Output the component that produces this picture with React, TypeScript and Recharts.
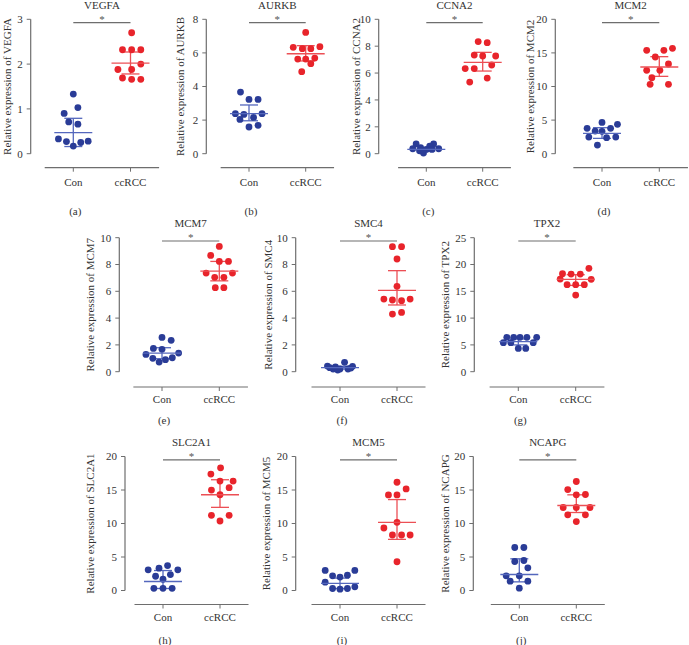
import { ScatterChart, Scatter, XAxis, YAxis, ErrorBar, ReferenceLine } from "recharts";

const groups = ["Con", "ccRCC"];
const genes = ["VEGFA", "AURKB", "CCNA2", "MCM2", "MCM7", "SMC4", "TPX2", "SLC2A1", "MCM5", "NCAPG"];
const tags = ["(a)", "(b)", "(c)", "(d)", "(e)", "(f)", "(g)", "(h)", "(i)", "(j)"];
const yTicks = [
  [0, 1, 2, 3],
  [0, 2, 4, 6, 8],
  [0, 2, 4, 6, 8, 10],
  [0, 5, 10, 15, 20],
  [0, 2, 4, 6, 8, 10],
  [0, 2, 4, 6, 8, 10],
  [0, 5, 10, 15, 20, 25],
  [0, 5, 10, 15, 20],
  [0, 5, 10, 15, 20],
  [0, 5, 10, 15, 20],
];

// values per group, with the horizontal spread of each dot (in category units)
const vegfaCon = [1.33, 0.9, 1.03, 0.71, 0.66, 0.33, 0.27, 0.17, 0.25, 0.28];
const vegfaConX = [0, -0.16, 0.08, -0.08, 0.08, -0.26, -0.12, 0, 0.13, 0.26];
const vegfaCc = [2.7, 2.32, 2.32, 2.32, 2.0, 1.88, 1.88, 1.69, 1.66, 1.66];
const vegfaCcX = [0.02, -0.14, 0.02, 0.18, 0.18, -0.22, 0.02, -0.14, 0.02, 0.18];

const aurkbCon = [3.67, 3.23, 3.23, 2.38, 2.34, 2.38, 2.04, 2.16, 1.59, 1.69];
const aurkbConX = [-0.15, 0, 0.16, -0.24, -0.09, 0.23, -0.16, 0.08, 0, 0.16];
const aurkbCc = [7.22, 6.33, 6.25, 6.25, 6.37, 5.63, 5.63, 5.69, 5.36, 4.88];
const aurkbCcX = [0, -0.22, -0.06, 0.09, 0.25, -0.14, 0, 0.16, 0.09, -0.07];

const ccna2Con = [0.72, 0.72, 0.57, 0.37, 0.45, 0.32, 0.37, 0.22, 0.05, 0.32];
const ccna2ConX = [-0.18, 0.13, 0.06, -0.24, -0.1, 0, 0.22, -0.12, -0.05, 0.1];
const ccna2Cc = [8.34, 8.26, 7.34, 7.27, 7.27, 6.6, 6.33, 6.33, 5.63, 5.33];
const ccna2CcX = [-0.08, 0.08, -0.15, 0, 0.23, 0.16, -0.31, -0.15, 0.08, -0.23];

const mcm2Con = [4.66, 3.77, 3.37, 3.77, 4.37, 3.33, 2.48, 2.38, 2.48, 1.29];
const mcm2ConX = [0, -0.26, -0.12, 0.15, 0.27, 0, -0.23, 0.08, 0.24, -0.08];
const mcm2Cc = [15.38, 15.38, 15.68, 14.39, 13.35, 12.41, 12.41, 11.32, 10.32, 10.32];
const mcm2CcX = [-0.22, 0.08, 0.23, -0.07, 0.16, -0.22, 0.01, -0.13, -0.16, 0.16];

const mcm7Con = [2.56, 2.34, 1.74, 1.67, 1.29, 1.39, 1.0, 1.04, 0.9, 0.72];
const mcm7ConX = [0, 0.16, -0.15, 0, -0.28, 0.29, -0.16, 0.18, 0.06, -0.05];
const mcm7Cc = [9.35, 8.68, 8.23, 8.23, 7.36, 7.04, 7.04, 7.36, 6.27, 6.27];
const mcm7CcX = [0, -0.15, 0, 0.16, -0.23, 0.08, -0.08, 0.23, -0.07, 0.08];

const smc4Con = [0.7, 0.42, 0.35, 0.4, 0.2, 0.2, 0.2, 0.3, 0.12, 0.27];
const smc4ConX = [0.08, -0.22, -0.08, 0.22, -0.12, 0, 0.14, -0.18, -0.04, 0.19];
const smc4Cc = [9.33, 9.33, 8.41, 6.37, 5.42, 5.35, 5.3, 5.42, 4.3, 4.42];
const smc4CcX = [-0.08, 0.08, 0, 0, -0.23, -0.08, 0.08, 0.23, -0.08, 0.08];

const tpx2Con = [6.41, 6.41, 6.41, 6.41, 6.41, 5.41, 5.41, 5.41, 4.35, 4.35];
const tpx2ConX = [-0.2, -0.08, 0.03, 0.15, 0.32, -0.26, -0.13, 0.26, 0, 0.13];
const tpx2Cc = [19.28, 18.28, 18.22, 18.22, 17.29, 17.23, 16.23, 16.23, 16.23, 14.3];
const tpx2CcX = [0.23, -0.23, -0.08, 0.08, -0.27, 0.27, -0.15, 0, 0.15, 0];

const slc2a1Con = [3.08, 3.33, 3.72, 3.08, 2.13, 2.38, 1.68, 0.32, 0.32, 0.32];
const slc2a1ConX = [-0.26, -0.07, 0.08, 0.26, -0.13, 0.13, 0, -0.16, 0, 0.16];
const slc2a1Cc = [18.31, 17.37, 16.33, 16.33, 15.34, 14.99, 14.29, 11.22, 11.22, 10.37];
const slc2a1CcX = [0.01, -0.16, 0, 0.23, 0.16, -0.15, 0, -0.15, 0.16, 0];

const mcm5Con = [2.99, 2.99, 2.19, 2.0, 2.29, 1.25, 0.3, 0.2, 0.3, 0.55];
const mcm5ConX = [-0.26, 0.26, -0.13, 0, 0.13, -0.26, -0.13, 0, 0.13, 0.26];
const mcm5Cc = [16.16, 14.26, 14.26, 15.16, 10.17, 9.33, 8.28, 8.28, 8.28, 4.29];
const mcm5CcX = [0, -0.15, 0, 0.16, 0, -0.23, -0.08, 0.08, 0.23, 0];

const ncapgCon = [6.42, 6.42, 4.33, 4.48, 3.38, 2.19, 2.19, 1.39, 1.39, 0.35];
const ncapgConX = [-0.08, 0.08, -0.08, 0.08, 0.15, -0.23, 0, -0.16, 0.15, 0];
const ncapgCc = [16.27, 15.07, 14.33, 14.28, 12.39, 12.39, 12.39, 11.29, 11.29, 10.29];
const ncapgCcX = [0, -0.15, 0.16, 0, -0.23, 0, 0.24, -0.15, 0.16, 0];

// [center, lower, upper] of the bar drawn over each group: Con, then ccRCC
const vegfaBars = [[0.47, 0.16, 0.79], [2.02, 1.78, 2.27]];
const aurkbBars = [[2.38, 1.96, 2.9], [5.95, 5.52, 6.43]];
const ccna2Bars = [[0.32, 0.2, 0.45], [6.8, 6.15, 7.54]];
const mcm2Bars = [[3.03, 2.28, 3.87], [12.9, 11.51, 14.44]];
const mcm7Bars = [[1.39, 0.97, 1.79], [7.51, 6.78, 8.23]];
const smc4Bars = [[0.3, 0.2, 0.4], [6.07, 4.98, 7.54]];
const tpx2Bars = [[5.6, 5.0, 6.1], [17.23, 16.1, 18.1]];
const slc2a1Bars = [[1.34, 0.3, 2.98], [14.29, 12.41, 16.53]];
const mcm5Bars = [[1.05, 0.3, 1.85], [10.17, 7.63, 13.57]];
const ncapgBars = [[2.39, 1.29, 4.73], [12.69, 11.64, 14.28]];

const series = [
  [vegfaCon, vegfaConX, vegfaCc, vegfaCcX, vegfaBars],
  [aurkbCon, aurkbConX, aurkbCc, aurkbCcX, aurkbBars],
  [ccna2Con, ccna2ConX, ccna2Cc, ccna2CcX, ccna2Bars],
  [mcm2Con, mcm2ConX, mcm2Cc, mcm2CcX, mcm2Bars],
  [mcm7Con, mcm7ConX, mcm7Cc, mcm7CcX, mcm7Bars],
  [smc4Con, smc4ConX, smc4Cc, smc4CcX, smc4Bars],
  [tpx2Con, tpx2ConX, tpx2Cc, tpx2CcX, tpx2Bars],
  [slc2a1Con, slc2a1ConX, slc2a1Cc, slc2a1CcX, slc2a1Bars],
  [mcm5Con, mcm5ConX, mcm5Cc, mcm5CcX, mcm5Bars],
  [ncapgCon, ncapgConX, ncapgCc, ncapgCcX, ncapgBars],
];

// page geometry of each panel
const layout = [
  { axisX: 30.7, conX: 73.3, ccX: 130.5, labelX: 7, row: 0 },
  { axisX: 206.3, conX: 249, ccX: 305.7, labelX: 180.3, row: 0 },
  { axisX: 378.7, conX: 426.3, ccX: 482.7, labelX: 355.7, row: 0 },
  { axisX: 555.3, conX: 602, ccX: 659.3, labelX: 530, row: 0 },
  { axisX: 119.3, conX: 162, ccX: 219.3, labelX: 90, row: 1 },
  { axisX: 295.7, conX: 340, ccX: 397, labelX: 268, row: 1 },
  { axisX: 474.3, conX: 518.3, ccX: 575.7, labelX: 445, row: 1 },
  { axisX: 125, conX: 163, ccX: 220, labelX: 90.3, row: 2 },
  { axisX: 295.7, conX: 340, ccX: 397, labelX: 266.3, row: 2 },
  { axisX: 473.3, conX: 519.3, ccX: 576.3, labelX: 445, row: 2 },
];
const rows = [
  { yTop: 19.3, yZero: 153.7, xAxisY: 167.7, titleY: 5, catY: 182.7, tagY: 210.7 },
  { yTop: 237.7, yZero: 371.7, xAxisY: 387, titleY: 223, catY: 399, tagY: 420 },
  { yTop: 456.5, yZero: 590.5, xAxisY: 604.5, titleY: 442, catY: 617, tagY: 640 },
];

const W = 689;
const H = 645;
const FONT = "'Liberation Serif', 'Times New Roman', serif";
const AXIS = "#6e6e6e";
const TEXT = "#333";
const BLUE = "#2a3c97";
const RED = "#e8242b";
const BLUE_BAR = "#5467bd";
const RED_BAR = "#ec4f55";

function Dot(color: string) {
  return (p: any) => <circle cx={p.cx} cy={p.cy} r={3.4} fill={color} />;
}

function MeanLine(color: string) {
  return (p: any) => (
    <line x1={p.cx - 19} x2={p.cx + 19} y1={p.cy} y2={p.cy} stroke={color} strokeWidth={1.3} />
  );
}

function Panel({ i }: { i: number }) {
  const g = layout[i];
  const r = rows[g.row];
  const ticks = yTicks[i];
  const yMax = ticks[ticks.length - 1];
  const ppu = (r.yZero - r.yTop) / yMax;
  const yMin = -(r.xAxisY - r.yZero) / ppu;
  const u = g.ccX - g.conX;
  const xMin = 1 - (g.conX - g.axisX) / u;
  const xEnd = g.ccX + u / 2;
  const [con, conX, cc, ccX, bars] = series[i] as any;
  const conDots = con.map((v: number, k: number) => ({ x: 1 + conX[k], y: v }));
  const ccDots = cc.map((v: number, k: number) => ({ x: 2 + ccX[k], y: v }));
  const barData = (b: number[], x: number) => [{ x, y: b[0], err: [b[0] - b[1], b[2] - b[0]] }];
  const sigY = yMax - 3.3 / ppu;
  const yW = 30;
  const xH = 30;
  const tickGap = r.catY - 4.3 - r.xAxisY - 4;

  return (
    <div style={{ position: "absolute", left: 0, top: 0 }}>
      <ScatterChart
        width={W}
        height={H}
        margin={{ left: g.axisX - yW, top: r.yTop, right: W - xEnd, bottom: H - r.xAxisY - xH }}
      >
        <XAxis
          type="number"
          dataKey="x"
          domain={[xMin, 2.5]}
          ticks={[1, 2]}
          interval={0}
          allowDataOverflow
          tickFormatter={(v: number) => groups[Math.round(v) - 1]}
          axisLine={false}
          stroke={AXIS}
          tickSize={4}
          tickMargin={tickGap}
          height={xH}
          tick={{ fill: TEXT, fontSize: 11, fontFamily: FONT }}
        />
        <YAxis
          type="number"
          dataKey="y"
          domain={[yMin, yMax]}
          ticks={ticks}
          interval={0}
          allowDataOverflow
          axisLine={false}
          stroke={AXIS}
          tickSize={4}
          tickMargin={4}
          width={yW}
          tick={{ fill: TEXT, fontSize: 11, fontFamily: FONT }}
        />
        <ReferenceLine
          segment={[{ x: xMin, y: 0 }, { x: xMin, y: yMax }]}
          stroke={AXIS}
          strokeWidth={1.2}
          ifOverflow="visible"
        />
        <ReferenceLine
          segment={[{ x: 0.5, y: yMin }, { x: 2.5, y: yMin }]}
          stroke={AXIS}
          strokeWidth={1.2}
          ifOverflow="visible"
        />
        <ReferenceLine
          segment={[{ x: 1, y: sigY }, { x: 2, y: sigY }]}
          stroke={AXIS}
          strokeWidth={1.2}
          ifOverflow="visible"
          label={{ value: "*", position: "top", offset: 0, fill: "#555", fontSize: 11, fontFamily: FONT }}
        />
        <Scatter data={conDots} shape={Dot(BLUE)} isAnimationActive={false} />
        <Scatter data={ccDots} shape={Dot(RED)} isAnimationActive={false} />
        <Scatter data={barData(bars[0], 1)} shape={MeanLine(BLUE_BAR)} isAnimationActive={false}>
          <ErrorBar dataKey="err" direction="y" width={9} stroke={BLUE_BAR} strokeWidth={1.3} isAnimationActive={false} />
        </Scatter>
        <Scatter data={barData(bars[1], 2)} shape={MeanLine(RED_BAR)} isAnimationActive={false}>
          <ErrorBar dataKey="err" direction="y" width={9} stroke={RED_BAR} strokeWidth={1.3} isAnimationActive={false} />
        </Scatter>
      </ScatterChart>
    </div>
  );
}

function Labels() {
  return (
    <svg width={W} height={H} style={{ position: "absolute", left: 0, top: 0 }}>
      {layout.map((g, i) => {
        const r = rows[g.row];
        const midY = (r.yTop + r.yZero) / 2;
        return (
          <g key={i} fontFamily={FONT} fontSize={11} fill={TEXT}>
            <text x={(g.conX + g.ccX) / 2} y={r.titleY} textAnchor="middle" dominantBaseline="central">
              {genes[i]}
            </text>
            <text
              x={g.labelX}
              y={midY}
              textAnchor="middle"
              dominantBaseline="central"
              transform={`rotate(-90 ${g.labelX} ${midY})`}
            >
              {`Relative expression of ${genes[i]}`}
            </text>
            <text x={g.conX + 2} y={r.tagY} textAnchor="middle" dominantBaseline="central">
              {tags[i]}
            </text>
          </g>
        );
      })}
    </svg>
  );
}

export default function App() {
  return (
    <div style={{ position: "absolute", left: 0, top: 0, width: W, height: H, background: "#fff" }}>
      {layout.map((_, i) => (
        <Panel key={i} i={i} />
      ))}
      <Labels />
    </div>
  );
}
